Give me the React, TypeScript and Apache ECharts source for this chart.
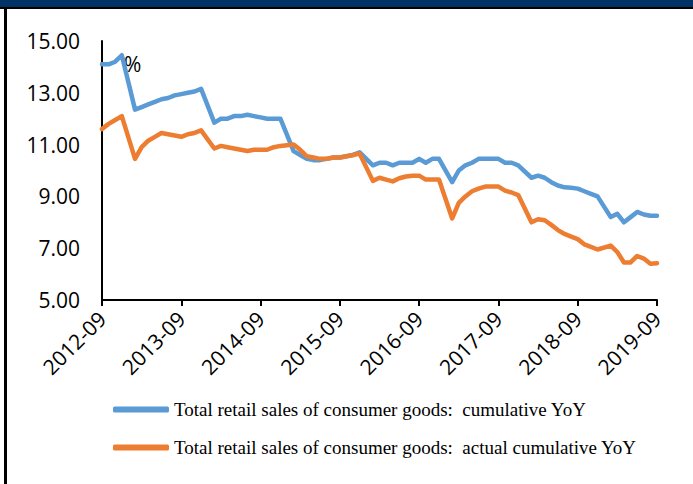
import React, { useEffect, useRef } from "react";
import * as echarts from "echarts";

// Monthly categories 2012-09 .. 2019-09 (January values are not published; kept as null)
const startYear = 2012;
const startMonth = 9;
const monthCount = 85;
const categories: string[] = [];
for (let i = 0; i < monthCount; i++) {
  const m = startMonth - 1 + i;
  const y = startYear + Math.floor(m / 12);
  const mm = (m % 12) + 1;
  categories.push(`${y}-${mm < 10 ? "0" + mm : mm}`);
}

const seriesNames = [
  "Total retail sales of consumer goods:  cumulative YoY",
  "Total retail sales of consumer goods:  actual cumulative YoY",
];

const cumulativeYoY: (number | null)[] = [
  14.1, 14.1, 14.2, 14.45,
  null, 12.35, 12.45, 12.55, 12.65, 12.75, 12.8, 12.9, 12.95, 13.0, 13.05, 13.15,
  null, 11.85, 12.0, 12.0, 12.1, 12.1, 12.15, 12.1, 12.05, 12.0, 12.0, 12.0,
  null, 10.75, 10.6, 10.45, 10.4, 10.4, 10.45, 10.5, 10.5, 10.55, 10.6, 10.7,
  null, 10.2, 10.3, 10.3, 10.2, 10.3, 10.3, 10.3, 10.45, 10.3, 10.45, 10.45,
  null, 9.55, 10.0, 10.2, 10.3, 10.45, 10.45, 10.45, 10.45, 10.3, 10.3, 10.2,
  null, 9.72, 9.8, 9.72, 9.55, 9.42, 9.35, 9.33, 9.3, 9.2, 9.1, 9.0,
  null, 8.2, 8.33, 8.0, 8.2, 8.4, 8.3, 8.25, 8.25,
];

const actualCumulativeYoY: (number | null)[] = [
  11.6, 11.8, 11.95, 12.1,
  null, 10.45, 10.9, 11.15, 11.3, 11.45, 11.4, 11.35, 11.3, 11.4, 11.45, 11.55,
  null, 10.85, 10.95, 10.9, 10.85, 10.8, 10.75, 10.8, 10.8, 10.8, 10.9, 10.95,
  null, 11.0, 10.8, 10.55, 10.5, 10.45, 10.45, 10.5, 10.5, 10.55, 10.6, 10.65,
  null, 9.6, 9.72, 9.65, 9.58, 9.7, 9.77, 9.8, 9.8, 9.65, 9.65, 9.65,
  null, 8.15, 8.75, 9.0, 9.2, 9.3, 9.38, 9.38, 9.38, 9.22, 9.15, 9.05,
  null, 8.0, 8.12, 8.08, 7.9, 7.7, 7.55, 7.45, 7.35, 7.15, 7.05, 6.95,
  null, 7.1, 6.85, 6.45, 6.45, 6.7, 6.6, 6.4, 6.42,
];

const colors = ["#5B9BD5", "#ED7D31"];

export default function App() {
  const ref = useRef<HTMLDivElement>(null);
  useEffect(() => {
    if (!ref.current) return;
    const chart = echarts.init(ref.current, null, { renderer: "svg" });
    const axisFont = { fontFamily: "Open Sans", fontSize: 21, color: "#000" };
    chart.setOption({
      animation: false,
      backgroundColor: "#fff",
      grid: { left: 102, right: 36, top: 41, bottom: 184 },
      legend: {
        orient: "vertical",
        left: 113,
        top: 400,
        padding: 0,
        itemGap: 19,
        itemWidth: 56,
        itemHeight: 6,
        icon: "roundRect",
        textStyle: { fontFamily: "Liberation Serif", fontSize: 19, color: "#000" },
        data: seriesNames,
      },
      xAxis: {
        type: "category",
        data: categories,
        boundaryGap: false,
        axisLine: { lineStyle: { color: "#000", width: 2 } },
        axisTick: { show: true, interval: 11, length: 6, lineStyle: { color: "#000", width: 2 } },
        axisLabel: { ...axisFont, interval: 11, rotate: 45, margin: 15 },
        splitLine: { show: false },
      },
      yAxis: {
        type: "value",
        min: 5,
        max: 15,
        interval: 2,
        axisLine: { show: true, lineStyle: { color: "#000", width: 2 } },
        axisTick: { show: false },
        axisLabel: { ...axisFont, margin: 22, formatter: (v: number) => v.toFixed(2) },
        splitLine: { show: false },
      },
      graphic: [
        { type: "rect", left: 0, top: 0, shape: { width: 693, height: 7 }, style: { fill: "#003366" } },
        { type: "rect", left: 0, top: 7, shape: { width: 693, height: 2 }, style: { fill: "#000" } },
        { type: "rect", left: 4, top: 7, shape: { width: 3, height: 477 }, style: { fill: "#000" } },
        {
          type: "text",
          left: 124,
          top: 53,
          style: { text: "%", fontFamily: "Open Sans", fontSize: 21, fill: "#000" },
        },
      ],
      series: [
        {
          name: seriesNames[0],
          type: "line",
          data: cumulativeYoY,
          connectNulls: true,
          showSymbol: false,
          symbol: "none",
          lineStyle: { color: colors[0], width: 4.5, cap: "round", join: "round" },
          itemStyle: { color: colors[0] },
        },
        {
          name: seriesNames[1],
          type: "line",
          data: actualCumulativeYoY,
          connectNulls: true,
          showSymbol: false,
          symbol: "none",
          lineStyle: { color: colors[1], width: 4.5, cap: "round", join: "round" },
          itemStyle: { color: colors[1] },
        },
      ],
    });
    return () => chart.dispose();
  }, []);
  return (
    <div
      ref={ref}
      style={{ position: "absolute", left: 0, top: 0, width: 693, height: 484 }}
    />
  );
}
